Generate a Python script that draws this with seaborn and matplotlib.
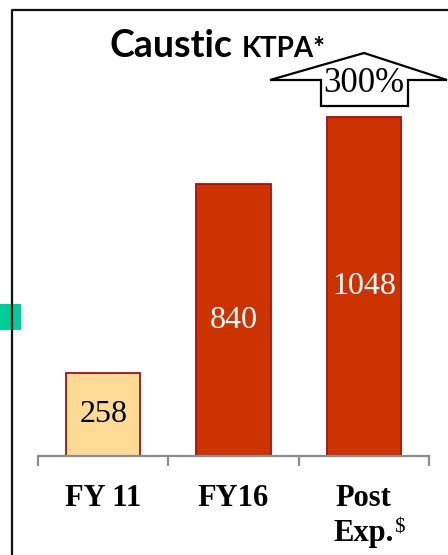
import matplotlib
matplotlib.use("Agg")
import matplotlib.pyplot as plt
from matplotlib.lines import Line2D
from matplotlib.patches import Polygon, Rectangle
import seaborn as sns
import pandas as pd

# Capacity data (KTPA)
categories = ["FY 11", "FY16", "Post\nExp."]
capacity = [258, 840, 1048]
bar_colors = ["#FFD996", "#CC3300", "#CC3300"]
label_colors = ["black", "white", "white"]
growth_label = "300%"

W, H = 448, 555
sns.set_theme(style="white")
plt.rcParams["font.family"] = ["Liberation Serif", "DejaVu Serif"]
plt.rcParams["text.color"] = "black"
plt.rcParams["xtick.color"] = "black"

fig = plt.figure(figsize=(W / 100, H / 100), dpi=100)
fig.patch.set_facecolor("white")


def fx(px):
    return px / W


def fy(py):
    return 1 - py / H


# Plot area
ax_left, ax_right, ax_bottom, ax_top = 38, 429, 456, 9
ax = fig.add_axes([fx(ax_left), fy(ax_bottom), fx(ax_right - ax_left), (ax_bottom - ax_top) / H])
ax.set_facecolor("none")

df = pd.DataFrame({"period": categories, "ktpa": capacity})
sns.barplot(data=df, x="period", y="ktpa", hue="period", palette=bar_colors,
            width=0.57, edgecolor="#A80F0F", linewidth=1.3, legend=False,
            saturation=1, ax=ax)

ax.set_ylim(0, 1382)
ax.set_xlim(-0.5, 2.5)
ax.set_xlabel("")
ax.set_ylabel("")
ax.set_yticks([])
for s in ["left", "top", "right"]:
    ax.spines[s].set_visible(False)
ax.spines["bottom"].set_color("#8C8C8C")
ax.spines["bottom"].set_linewidth(1.6)

# Boundary ticks between categories, labels centred under bars
ax.set_xticks([-0.5, 0.5, 1.5, 2.5])
ax.set_xticklabels([])
ax.tick_params(axis="x", which="major", length=7.5, width=1.6, color="#8C8C8C",
               direction="out", bottom=True)
ax.set_xticks([0, 1, 2], minor=True)
ax.set_xticklabels(categories, minor=True, fontsize=22, fontweight="bold",
                   family=["Liberation Serif"], linespacing=1.3, color="black")
ax.tick_params(axis="x", which="minor", length=0, pad=20, labelcolor="black")

# Value labels inside the bars
for cont, col in zip(ax.containers, label_colors):
    ax.bar_label(cont, label_type="center", fontsize=23,
                 family=["Liberation Serif"], color=col)

# Superscript dollar after "Exp."
fig.text(fx(394), fy(519), "$", fontsize=15, family=["Liberation Serif"],
         ha="left", va="top", color="black")

# Title
fig.text(fx(109), fy(57), "Caustic", fontsize=27, fontweight="bold",
         family=["Lato", "DejaVu Sans"], ha="left", va="baseline", color="black")
fig.text(fx(242), fy(57), "KTPA*", fontsize=20, fontweight="bold",
         family=["Lato", "DejaVu Sans"], ha="left", va="baseline", color="black")

# Growth arrow
arrow_px = [(270, 80), (364, 53), (447, 80), (408, 80), (408, 106),
            (321, 106), (321, 80)]
fig.patches.append(Polygon([(fx(x), fy(y)) for x, y in arrow_px], closed=True,
                           facecolor="white", edgecolor="black", linewidth=1.6,
                           joinstyle="miter", transform=fig.transFigure,
                           figure=fig, zorder=5))
fig.text(fx(364), fy(92), growth_label, fontsize=25, family=["Liberation Serif"],
         ha="center", va="baseline", zorder=6, color="black")

# Side marker and panel frame
fig.patches.append(Rectangle((fx(0), fy(330)), fx(21), (330 - 304) / H,
                             facecolor="#00CC9A", edgecolor="none",
                             transform=fig.transFigure, figure=fig, zorder=1))
fig.lines.append(Line2D([fx(11.5), fx(11.5), fx(448)], [fy(555), fy(9.5), fy(9.5)],
                        color="#111111", linewidth=1.6, transform=fig.transFigure,
                        figure=fig, zorder=3))

fig.savefig("out.png", dpi=100)
